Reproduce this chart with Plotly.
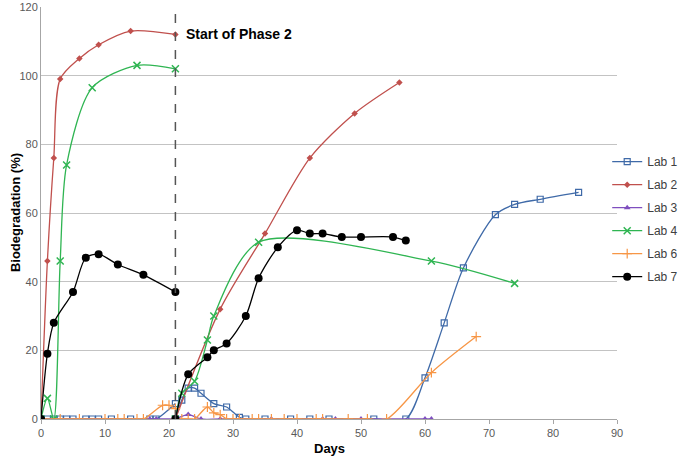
import plotly.graph_objects as go

# ---- data (None separates Phase 1 from Phase 2) ----
lab1_days = [0, 1, 2, 3, 4, 5, 7, 8, 9, 11, 14, 17, 18, 21, None,
             21, 22, 23, 24, 25, 27, 29, 31, 32, 35, 39, 42, 45, 52, 57, 60, 63, 66, 71, 74, 78, 84]
lab1_vals = [0, 0, 0, 0, 0, 0, 0, 0, 0, 0, 0, 0, 0, 4.5, None,
             0, 5.5, 9, 9, 7.5, 4.5, 3.5, 0.5, 0, 0, 0, 0, 0, 0, 0, 12, 28, 44, 59.5, 62.5, 64, 66]

lab2_days = [0, 1, 2, 3, 6, 9, 14, 21, None, 21, 28, 35, 42, 49, 56]
lab2_vals = [0, 46, 76, 99, 105, 109, 113, 112, None, 0, 32, 54, 76, 89, 98]

lab3_days = [0, 17, 18, 21, None, 21, 23, 25, 28, 36, 44, 46, 50, 60, 61]
lab3_vals = [0, 0, 0, 0, None, 0, 1.3, 0, 0, 0, 0, 0, 0, 0, 0]

lab4_days = [0, 1, 2, 3, 4, 8, 15, 21, None, 21, 22, 24, 26, 27, 34, 61, 74]
lab4_vals = [0, 6, 0, 46, 74, 96.5, 103, 102, None, 0, 7.5, 11, 23, 30, 51.5, 46, 39.5]

lab6_days = [0, 3, 6, 10, 12, 13, 15, 16, 19, 20, 21, None,
             21, 22, 23, 24, 26, 27, 28, 29, 30, 31, 33, 34, 36, 38, 40, 43, 44, 48, 51, 54, 61, 68]
lab6_vals = [0, 0, 0, 0, 0, 0, 0, 0, 4, 4, 3, None,
             0, 0, 0, 0, 3.5, 1.8, 1.3, 0, 0, 0, 0, 0, 0, 0, 0, 0, 0, 0, 0, 0, 13.5, 24]

lab7_days = [0, 1, 2, 5, 7, 9, 12, 16, 21, None,
             21, 23, 26, 27, 29, 32, 34, 37, 40, 42, 44, 47, 50, 55, 57]
lab7_vals = [0, 19, 28, 37, 47, 48, 45, 42, 37, None,
             0, 13, 18, 20, 22, 30, 41, 50, 55, 54, 54, 53, 53, 53, 52]

phase2_day = 21
phase2_label = "Start of Phase 2"
x_ticks = [0, 10, 20, 30, 40, 50, 60, 70, 80, 90]
y_ticks = [0, 20, 40, 60, 80, 100, 120]

series = [
    ("Lab 1", lab1_days, lab1_vals, "#3f6aa8", dict(symbol="square-open", size=6, line=dict(width=1.2))),
    ("Lab 2", lab2_days, lab2_vals, "#c0504d", dict(symbol="diamond", size=5)),
    ("Lab 3", lab3_days, lab3_vals, "#7f4fbf", dict(symbol="triangle-up", size=6)),
    ("Lab 4", lab4_days, lab4_vals, "#2fb552", dict(symbol="x-thin-open", size=7, line=dict(width=1.5))),
    ("Lab 6", lab6_days, lab6_vals, "#f79646", dict(symbol="cross-thin-open", size=7, line=dict(width=1.2))),
    ("Lab 7", lab7_days, lab7_vals, "#000000", dict(symbol="circle", size=8)),
]

fig = go.Figure()
for name, x, y, color, mk in series:
    mk = dict(mk)
    mk["color"] = color
    if "line" in mk:
        mk["line"] = dict(mk["line"], color=color)
    fig.add_trace(go.Scatter(
        x=x, y=y, name=name, legendgroup=name, mode="lines+markers",
        line=dict(color=color, width=1.3, shape="spline", smoothing=0.8),
        marker=mk, connectgaps=False,
    ))

fig.add_shape(type="line", x0=phase2_day, x1=phase2_day, y0=0, y1=118,
              xref="x", yref="y", line=dict(color="#555555", width=1.5, dash="dash"))
fig.add_annotation(x=22.3, y=112, xref="x", yref="y", text="<b>" + phase2_label + "</b>",
                   showarrow=False, xanchor="left", yanchor="middle",
                   font=dict(family="Liberation Sans, Arial", size=14, color="#000000"))

# axis titles
fig.add_annotation(x=-0.045, y=0.5, xref="paper", yref="paper", text="<b>Biodegradation (%)</b>",
                   showarrow=False, textangle=-90, xanchor="center", yanchor="middle",
                   font=dict(family="Liberation Sans, Arial", size=13, color="#000000"))
fig.add_annotation(x=0.5, y=-0.072, xref="paper", yref="paper", text="<b>Days</b>",
                   showarrow=False, xanchor="center", yanchor="middle",
                   font=dict(family="Liberation Sans, Arial", size=13, color="#000000"))

fig.update_layout(
    width=685, height=458,
    margin=dict(l=41, r=68, t=7, b=39, autoexpand=False),
    paper_bgcolor="white", plot_bgcolor="white",
    font=dict(family="Liberation Sans, Arial", size=11, color="#595959"),
    legend=dict(x=0.983, y=0.485, xanchor="left", yanchor="middle",
                font=dict(size=12, color="#404040"), tracegroupgap=4,
                itemwidth=30, bgcolor="rgba(0,0,0,0)", borderwidth=0),
    showlegend=True,
)
fig.update_xaxes(range=[0, 90], tickvals=x_ticks, automargin=False,
                 showgrid=False, zeroline=False, showline=True, linecolor="#a6a6a6",
                 ticks="outside", ticklen=4, tickcolor="#a6a6a6",
                 tickfont=dict(size=11, color="#595959"))
fig.update_yaxes(range=[0, 120], tickvals=y_ticks, automargin=False,
                 showgrid=True, gridcolor="#c3c3c3", gridwidth=1, zeroline=False,
                 showline=True, linecolor="#a6a6a6",
                 ticks="", tickfont=dict(size=11, color="#595959"))

fig.write_html("out.html", config={"displayModeBar": False},
               post_script="document.body.style.margin='0';document.body.style.padding='0';")
